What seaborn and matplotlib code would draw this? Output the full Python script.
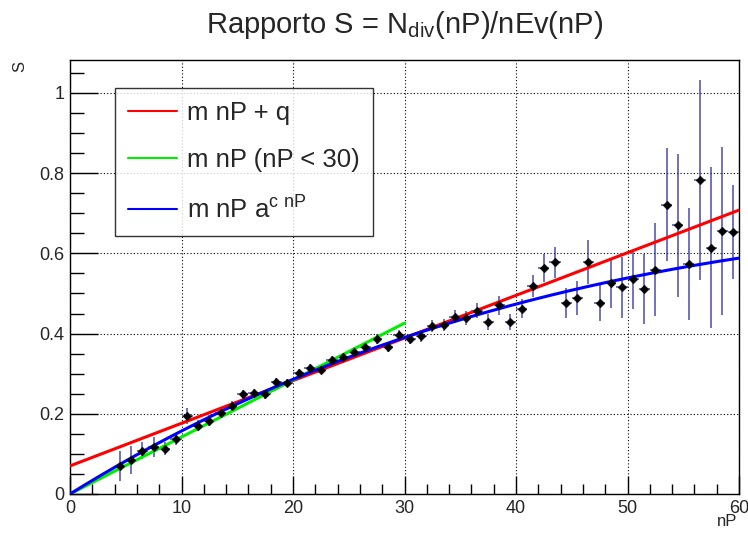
import numpy as np
import pandas as pd
import matplotlib
matplotlib.use("Agg")
import matplotlib.pyplot as plt
from matplotlib.ticker import MultipleLocator
import seaborn as sns

# ---- data ----
nP = [4.5, 5.5, 6.5, 7.5, 8.5, 9.5, 10.5, 11.5, 12.5, 13.5, 14.5, 15.5, 16.5, 17.5,
      18.5, 19.5, 20.5, 21.5, 22.5, 23.5, 24.5, 25.5, 26.5, 27.5, 28.5, 29.5, 30.5,
      31.5, 32.5, 33.5, 34.5, 35.5, 36.5, 37.5, 38.5, 39.5, 40.5, 41.5, 42.5, 43.5,
      44.5, 45.5, 46.5, 47.5, 48.5, 49.5, 50.5, 51.5, 52.5, 53.5, 54.5, 55.5, 56.5,
      57.5, 58.5, 59.5]
S = [0.070, 0.085, 0.108, 0.118, 0.113, 0.137, 0.195, 0.170, 0.183, 0.203, 0.220,
     0.249, 0.251, 0.249, 0.280, 0.276, 0.301, 0.313, 0.309, 0.334, 0.342, 0.355,
     0.366, 0.386, 0.367, 0.396, 0.386, 0.394, 0.419, 0.421, 0.442, 0.438, 0.457,
     0.429, 0.470, 0.429, 0.462, 0.519, 0.564, 0.578, 0.477, 0.489, 0.578, 0.477,
     0.525, 0.515, 0.535, 0.512, 0.559, 0.721, 0.670, 0.574, 0.783, 0.614, 0.656,
     0.653]
S_err = [0.037, 0.035, 0.021, 0.025, 0.017, 0.016, 0.020, 0.014, 0.013, 0.012, 0.012,
         0.011, 0.011, 0.011, 0.010, 0.010, 0.010, 0.010, 0.010, 0.010, 0.010, 0.011,
         0.011, 0.012, 0.012, 0.013, 0.013, 0.014, 0.015, 0.015, 0.016, 0.017, 0.019,
         0.019, 0.024, 0.021, 0.024, 0.028, 0.035, 0.039, 0.037, 0.043, 0.054, 0.046,
         0.061, 0.077, 0.073, 0.087, 0.116, 0.141, 0.178, 0.140, 0.250, 0.200, 0.210,
         0.118]
nP_err = 0.5

# fit parameters
lin_m, lin_q = 0.01063, 0.070          # m nP + q
prop_m, prop_max = 0.01420, 30.0       # m nP (nP < 30)
exp_m, exp_k = 0.01726, -0.00943       # m nP a^(c nP)  (a^c = e^k)

title = r"Rapporto S = N$_{\mathregular{div}}$(nP)/nEv(nP)"
legend_labels = ["m nP + q", "m nP (nP < 30)", r"m nP a$^{\mathregular{c\ nP}}$"]

# ---- build tables ----
pts = pd.DataFrame({"nP": nP, "S": S, "err": S_err})
xf = np.linspace(0, 60, 400)
xg = np.linspace(0, prop_max, 200)
fits = pd.concat([
    pd.DataFrame({"nP": xf, "S": lin_m * xf + lin_q, "fit": legend_labels[0]}),
    pd.DataFrame({"nP": xg, "S": prop_m * xg, "fit": legend_labels[1]}),
    pd.DataFrame({"nP": xf, "S": exp_m * xf * np.exp(exp_k * xf), "fit": legend_labels[2]}),
])

sns.set_style("white")
plt.rcParams["font.family"] = ["Liberation Sans", "DejaVu Sans"]
plt.rcParams["mathtext.fontset"] = "custom"
plt.rcParams["mathtext.rm"] = "Liberation Sans"

fig = plt.figure(figsize=(7.48, 5.34), dpi=100)
ax = fig.add_axes([70 / 748, 40 / 534, 669 / 748, 434 / 534])

ax.errorbar(pts["nP"], pts["S"], yerr=pts["err"], xerr=nP_err, fmt="none",
            ecolor=(0.15, 0.15, 0.6), alpha=0.65, elinewidth=1.4, zorder=2)
sns.lineplot(data=fits, x="nP", y="S", hue="fit", ax=ax, sort=False,
             palette=["#ff0000", "#00ee00", "#0000ff"], linewidth=2.2,
             estimator=None, zorder=3)
sns.scatterplot(data=pts, x="nP", y="S", ax=ax, marker="D", s=20, color="black",
                edgecolor="black", linewidth=0.3, zorder=4, legend=False)

ax.set_xlim(0, 60)
ax.set_ylim(0, 1.082)
ax.xaxis.set_major_locator(MultipleLocator(10))
ax.xaxis.set_minor_locator(MultipleLocator(2))
ax.set_yticks([0, 0.2, 0.4, 0.6, 0.8, 1.0])
ax.set_yticklabels(["0", "0.2", "0.4", "0.6", "0.8", "1"])
ax.yaxis.set_minor_locator(MultipleLocator(0.05))
ax.tick_params(which="both", direction="in", bottom=True, left=True,
               top=False, right=False, color="black", width=1)
ax.tick_params(which="major", labelsize=13, pad=4)
ax.tick_params(axis="x", which="major", length=13)
ax.tick_params(axis="x", which="minor", length=7)
ax.tick_params(axis="y", which="major", length=20)
ax.tick_params(axis="y", which="minor", length=10)
ax.grid(True, which="major", linestyle=(0, (1, 2)), color="black", linewidth=0.8)
for sp in ax.spines.values():
    sp.set_visible(True)
    sp.set_color("black")
    sp.set_linewidth(1)

ax.set_xlabel("")
ax.set_ylabel("")
fig.text(727 / 748, 1 - 522 / 534, "nP", ha="center", va="center", fontsize=12)
fig.text(20 / 748, 1 - 66 / 534, "S", ha="center", va="center", fontsize=12, rotation=90)
fig.text(405 / 748, 1 - 25 / 534, title, ha="center", va="center", fontsize=21)

h, l = ax.get_legend_handles_labels()
leg = ax.legend(h, l, loc="upper left", bbox_to_anchor=((115 - 70) / 669, 1 - (88 - 60) / 434),
                borderaxespad=0, fontsize=18.5, frameon=True, fancybox=False,
                edgecolor="black", handlelength=1.9, labelspacing=0.9, borderpad=0.5,
                handletextpad=0.4)
leg.get_frame().set_linewidth(1)
for line in leg.get_lines():
    line.set_linewidth(1.5)

fig.savefig("out.png", dpi=100)
